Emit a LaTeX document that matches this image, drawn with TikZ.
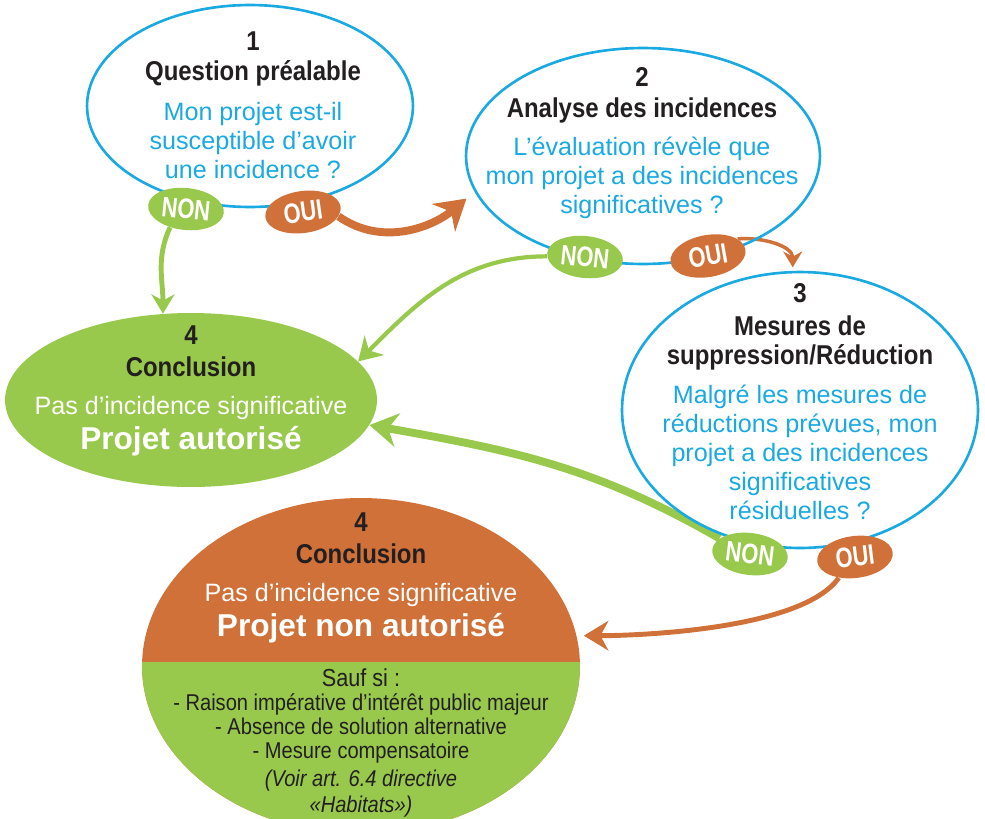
\documentclass[tikz,border=0pt]{standalone}
\usepackage{fontspec}
\setmainfont{Liberation Sans}
\newfontfamily\titrefont{Liberation Sans}[FakeStretch=0.88]
\newfontfamily\etiqfont{Liberation Sans}[FakeStretch=0.78]
\usetikzlibrary{shapes.geometric,arrows.meta,backgrounds}
\definecolor{bleu}{HTML}{1AA9E1}
\definecolor{vert}{HTML}{98C94C}
\definecolor{brique}{HTML}{CF7139}
\definecolor{encre}{HTML}{231F20}
\newcommand\titre{\titrefont\bfseries\color{encre}\fontsize{15.5}{16.5}\selectfont}

\begin{document}
\begin{tikzpicture}[x=0.02cm, y=-0.02cm,
  % Ellipses bleues des trois questions
  etape/.style={ellipse, draw=bleu, line width=1.5pt, inner sep=0pt},
  % Ellipses pleines des conclusions
  conclu/.style={ellipse, inner sep=0pt},
  % Texte des ellipses
  texte/.style={align=center, text=bleu, font=\fontsize{14.3}{16.5}\selectfont},
  % Bulles NON / OUI
  rep/.style={ellipse, minimum width=1.52cm, minimum height=0.84cm,
    inner sep=0pt, text=white, font=\etiqfont\bfseries\fontsize{16}{16}\selectfont},
  repnon/.style={rep, fill=vert},
  repoui/.style={rep, fill=brique},
  % Flèches
  tete/.style={-{Stealth[length=#1, width'=0pt 1.2]}},
  fnon/.style={draw=vert},
  foui/.style={draw=brique},
]
  \useasboundingbox (0,0) rectangle (985,819);
  \clip (0,0) rectangle (985,819);

  % === Questions ===
  \node[etape, minimum width=6.52cm, minimum height=4.04cm] (q1) at (250,106) {};
  \node[etape, minimum width=7.08cm, minimum height=4.32cm] (q2) at (643,156) {};
  \node[etape, minimum width=7.12cm, minimum height=5.52cm] (q3) at (800,410) {};

  \node[texte] (q1t) at (253,105) {{\titre 1}\\[1pt]{\titre Question préalable}\\[6pt]
    Mon projet est-il\\susceptible d’avoir\\une incidence ?};
  \node[texte] (q2t) at (642,143) {{\titre 2}\\[1pt]{\titre Analyse des incidences}\\[5pt]
    L’évaluation révèle que\\mon projet a des incidences\\significatives ?};
  \node[texte] (q3t) at (800,402) {{\titre 3}\\[2pt]{\titre Mesures de}\\{\titre suppression/Réduction}\\[6pt]
    Malgré les mesures de\\réductions prévues, mon\\projet a des incidences\\significatives\\résiduelles ?};

  % === Conclusions ===
  \node[conclu, fill=vert, minimum width=7.44cm, minimum height=3.48cm] (ok) at (191,400) {};
  \node[texte, text=white] (okt) at (191,391) {{\titre 4}\\[1.5pt]{\titre Conclusion}\\[5pt]
    Pas d’incidence significative\\[3.5pt]{\bfseries\fontsize{18}{16.5}\selectfont Projet autorisé}};

  \node[conclu, fill=brique, minimum width=8.76cm, minimum height=6.72cm,
    path picture={\fill[vert] ([yshift=0.08cm]path picture bounding box.west)
      rectangle (path picture bounding box.south east);}] (ko) at (361,666) {};
  \node[texte, text=white] (koh) at (361,578) {{\titre 4}\\[1.5pt]{\titre Conclusion}\\[5pt]
    Pas d’incidence significative\\[3.5pt]{\bfseries\fontsize{18}{16.5}\selectfont Projet non autorisé}};
  \node[align=center, text=encre, font=\titrefont\fontsize{13}{13.6}\selectfont] (kob) at (361,743)
    {{\fontsize{14}{13.6}\selectfont Sauf si :}\\- Raison impérative d’intérêt public majeur\\
    - Absence de solution alternative\\- Mesure compensatoire\\[2.3pt]
    {\itshape (Voir art. 6.4 directive}\\[1pt]{\itshape «Habitats»)}};

  % === Réponses ===
  \node[repnon, rotate=-6] (non1) at (186,209) {NON};
  \node[repoui, rotate=8] (oui1) at (303,212) {OUI};
  \node[repnon, rotate=-6] (non2) at (585,257) {NON};
  \node[repoui, rotate=10] (oui2) at (708,256) {OUI};
  \node[repnon, rotate=-7] (non3) at (750,554) {NON};
  \node[repoui, rotate=7] (oui3) at (855,557) {OUI};

  % === Flèches ===
  \begin{scope}[on background layer]
    \draw[fnon, line width=2.8pt, tete=11pt] (non1.235) to[out=-115, in=90] (ok.108);
    \draw[foui, line width=4.5pt, tete=17pt, shorten >=6pt] (oui1.-15) to[out=-35, in=220] (q2.192);
    \draw[fnon, line width=2.4pt, tete=13pt] (non2.185) to[out=180, in=45] (ok.13);
    \draw[foui, line width=2pt, tete=9pt, shorten >=2pt] (oui2.20) to[out=5, in=90] (q3.93);
    \draw[fnon, line width=4.5pt, tete=16pt] (non3.160) to[out=150, in=-10] (ok.-8);
    \draw[foui, line width=2.8pt, tete=14pt, shorten >=4pt] (oui3.225) to[out=235, in=0, looseness=0.6] (ko.8);
  \end{scope}
\end{tikzpicture}
\end{document}
